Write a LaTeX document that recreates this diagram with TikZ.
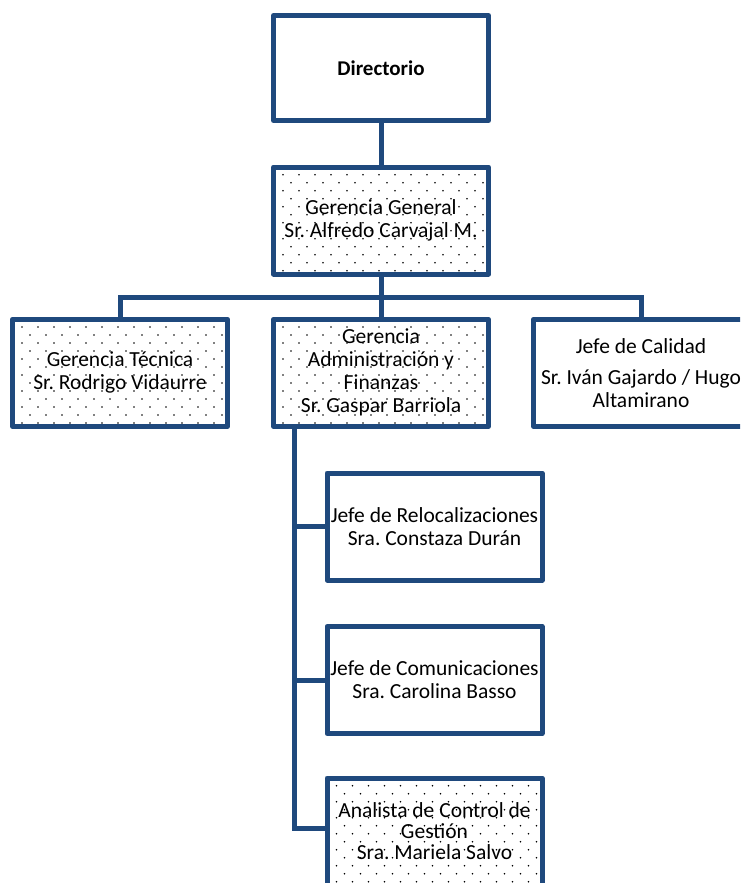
\documentclass[tikz,border=0pt]{standalone}
\usepackage{fontspec}
\setmainfont{Carlito}
\definecolor{orgblue}{HTML}{1F497D}
\frenchspacing
\begin{document}
\begin{tikzpicture}[x=1pt,y=-1pt,
  box/.style={draw=orgblue, line width=5pt, fill=white, minimum width=215pt,
    minimum height=107pt, inner sep=0pt, outer sep=0pt, align=center,
    font=\fontsize{21.5}{23}\selectfont\frenchspacing, line join=round},
  dotbox/.style={box, path picture={
      \foreach \j [evaluate=\j as \off using {mod(\j,2)*8}] in {0,...,13}
        \foreach \i in {0,...,13}
          \fill[black] ([xshift={(9.5+\off+16*\i)*1pt}, yshift={-(7.8+8*\j)*1pt}]path picture bounding box.north west) circle (0.9pt);
    }},
  conn/.style={draw=orgblue, line width=5pt, line join=miter}]
\useasboundingbox (0,0) rectangle (740,883);
\clip (0,0) rectangle (740,883);

\node[box, minimum height=105pt, font=\fontsize{21}{23}\selectfont\bfseries] (dir) at (381,68) {Directorio};
\node[dotbox] (gg) at (381,220.5) {Gerencia General\\Sr. Alfredo Carvajal M.};
\node[dotbox] (tec) at (120,372.75) {Gerencia Técnica\\Sr. Rodrigo Vidaurre};
\node[dotbox] (adm) at (381,372.75) {Gerencia\\Administración y\\Finanzas\\Sr. Gaspar Barriola};
\node[box] (cal) at (641,372.75) {Jefe de Calidad\\[8pt]Sr. Iván Gajardo / Hugo\\Altamirano};
\node[box] (reloc) at (434.5,526.5) {Jefe de Relocalizaciones\\Sra. Constaza Durán};
\node[box] (com) at (434.5,680) {Jefe de Comunicaciones\\Sra. Carolina Basso};
\node[dotbox, font=\fontsize{21.5}{21}\selectfont\frenchspacing] (ana) at (434.5,831.5) {Analista de Control de\\Gestión\\Sra. Mariela Salvo};

\draw[conn] (dir.south) -- (gg.north);
\draw[conn] (gg.south) -- ++(0,23) coordinate (bar);
\draw[conn] (tec.north) |- (bar) -| (cal.north);
\draw[conn] (bar) -- (adm.north);
\coordinate (sp) at ([xshift=21pt]adm.south west);
\coordinate (anab) at ([yshift=3.5pt]ana.west);
\draw[conn] (sp) |- (anab);
\draw[conn] (reloc.west) -- (reloc.west -| sp);
\draw[conn] (com.west) -- (com.west -| sp);
\end{tikzpicture}
\end{document}
